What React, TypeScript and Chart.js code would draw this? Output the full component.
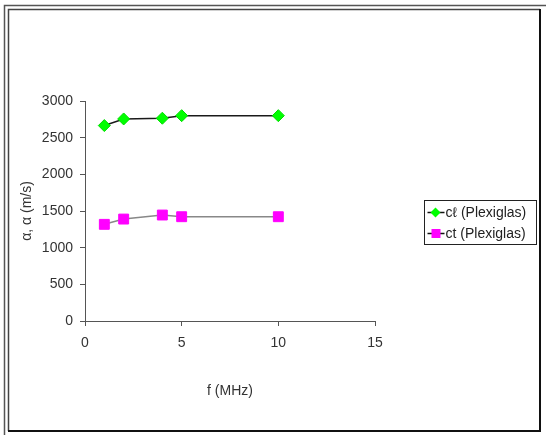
import React, { useEffect, useRef } from "react";
import { Chart, registerables } from "chart.js";

Chart.register(...registerables);

const freqs = [1, 2, 4, 5, 10];
const clValues = [2665, 2755, 2765, 2800, 2800];
const ctValues = [1318, 1390, 1445, 1422, 1422];
const seriesLabels = ["cℓ (Plexiglas)", "ct (Plexiglas)"];
const xTitle = "f (MHz)";
const yTitle = "α, α (m/s)";

const FONT = "'Liberation Sans', Arial, sans-serif";

const framePlugin = {
  id: "frame",
  beforeDraw(chart: any) {
    const ctx = chart.ctx;
    ctx.save();
    ctx.fillStyle = "#ffffff";
    ctx.fillRect(0, 0, chart.width, chart.height);
    ctx.strokeStyle = "#555";
    ctx.lineWidth = 1.5;
    ctx.beginPath();
    ctx.moveTo(4.5, 435);
    ctx.lineTo(4.5, 5.5);
    ctx.lineTo(546, 5.5);
    ctx.stroke();
    ctx.strokeStyle = "#444";
    ctx.beginPath();
    ctx.moveTo(8.5, 431);
    ctx.lineTo(8.5, 9.5);
    ctx.lineTo(540, 9.5);
    ctx.stroke();
    ctx.strokeStyle = "#111";
    ctx.lineWidth = 2;
    ctx.beginPath();
    ctx.moveTo(540, 9);
    ctx.lineTo(540, 431);
    ctx.lineTo(8, 431);
    ctx.stroke();
    ctx.restore();
  },
};

const legendPlugin = {
  id: "boxLegend",
  afterDraw(chart: any) {
    const ctx = chart.ctx;
    const x0 = 424.5, y0 = 200.5, w = 112, h = 44;
    ctx.save();
    ctx.strokeStyle = "#222";
    ctx.lineWidth = 1;
    ctx.strokeRect(x0, y0, w, h);
    chart.data.datasets.forEach((ds: any, i: number) => {
      const y = y0 + 12 + i * 21;
      ctx.strokeStyle = "#111";
      ctx.lineWidth = 1.5;
      ctx.beginPath();
      ctx.moveTo(x0 + 3, y);
      ctx.lineTo(x0 + 20, y);
      ctx.stroke();
      ctx.fillStyle = ds.pointBackgroundColor;
      if (ds.pointStyle === "rectRot") {
        ctx.beginPath();
        ctx.moveTo(x0 + 11, y - 5);
        ctx.lineTo(x0 + 16, y);
        ctx.lineTo(x0 + 11, y + 5);
        ctx.lineTo(x0 + 6, y);
        ctx.closePath();
        ctx.fill();
      } else {
        ctx.fillRect(x0 + 7, y - 4.5, 9, 9);
      }
      ctx.fillStyle = "#222";
      ctx.font = `14px ${FONT}`;
      ctx.textBaseline = "middle";
      ctx.fillText(ds.label, x0 + 21, y + 0.5);
    });
    ctx.restore();
  },
};

export default function App() {
  const ref = useRef<HTMLCanvasElement>(null);
  useEffect(() => {
    const chart = new Chart(ref.current as HTMLCanvasElement, {
      type: "line",
      data: {
        datasets: [
          {
            label: seriesLabels[0],
            data: freqs.map((f, i) => ({ x: f, y: clValues[i] })),
            borderColor: "#1a1a1a",
            borderWidth: 1.5,
            pointStyle: "rectRot",
            pointRadius: 6,
            pointBackgroundColor: "#00ff00",
            pointBorderColor: "#00dd00",
            pointBorderWidth: 1,
          },
          {
            label: seriesLabels[1],
            data: freqs.map((f, i) => ({ x: f, y: ctValues[i] })),
            borderColor: "#888888",
            borderWidth: 1.5,
            pointStyle: "rect",
            pointRadius: 7,
            pointBackgroundColor: "#ff00ff",
            pointBorderColor: "#ff00ff",
            pointBorderWidth: 1,
          },
        ],
      },
      options: {
        animation: false,
        responsive: false,
        layout: { padding: { left: 10, right: 175, top: 101, bottom: 10 } },
        plugins: { legend: { display: false }, tooltip: { enabled: false } },
        scales: {
          x: {
            type: "linear",
            min: 0,
            max: 15,
            ticks: { stepSize: 5, color: "#333", font: { family: FONT, size: 14 }, padding: 9 },
            grid: { drawOnChartArea: false, tickLength: 5, color: "#555" },
            border: { color: "#555", width: 1 },
            title: {
              display: true,
              text: xTitle,
              color: "#333",
              font: { family: FONT, size: 14 },
              padding: { top: 30, bottom: 30 },
            },
            afterFit(scale: any) {
              scale.height = 109;
            },
          },
          y: {
            min: 0,
            max: 3000,
            ticks: {
              stepSize: 500,
              color: "#333",
              font: { family: FONT, size: 14 },
              padding: 7,
              callback: (v: any) => String(v),
            },
            grid: { drawOnChartArea: false, tickLength: 5, color: "#555" },
            border: { color: "#555", width: 1 },
            title: {
              display: true,
              text: yTitle,
              color: "#333",
              font: { family: FONT, size: 14 },
              padding: { top: 9, bottom: 9 },
            },
            afterFit(scale: any) {
              scale.width = 75;
            },
          },
        },
      },
      plugins: [framePlugin, legendPlugin],
    });
    return () => chart.destroy();
  }, []);
  return (
    <div style={{ position: "absolute", left: 0, top: 0, width: 550, height: 440 }}>
      <canvas ref={ref} width={550} height={440} />
    </div>
  );
}
